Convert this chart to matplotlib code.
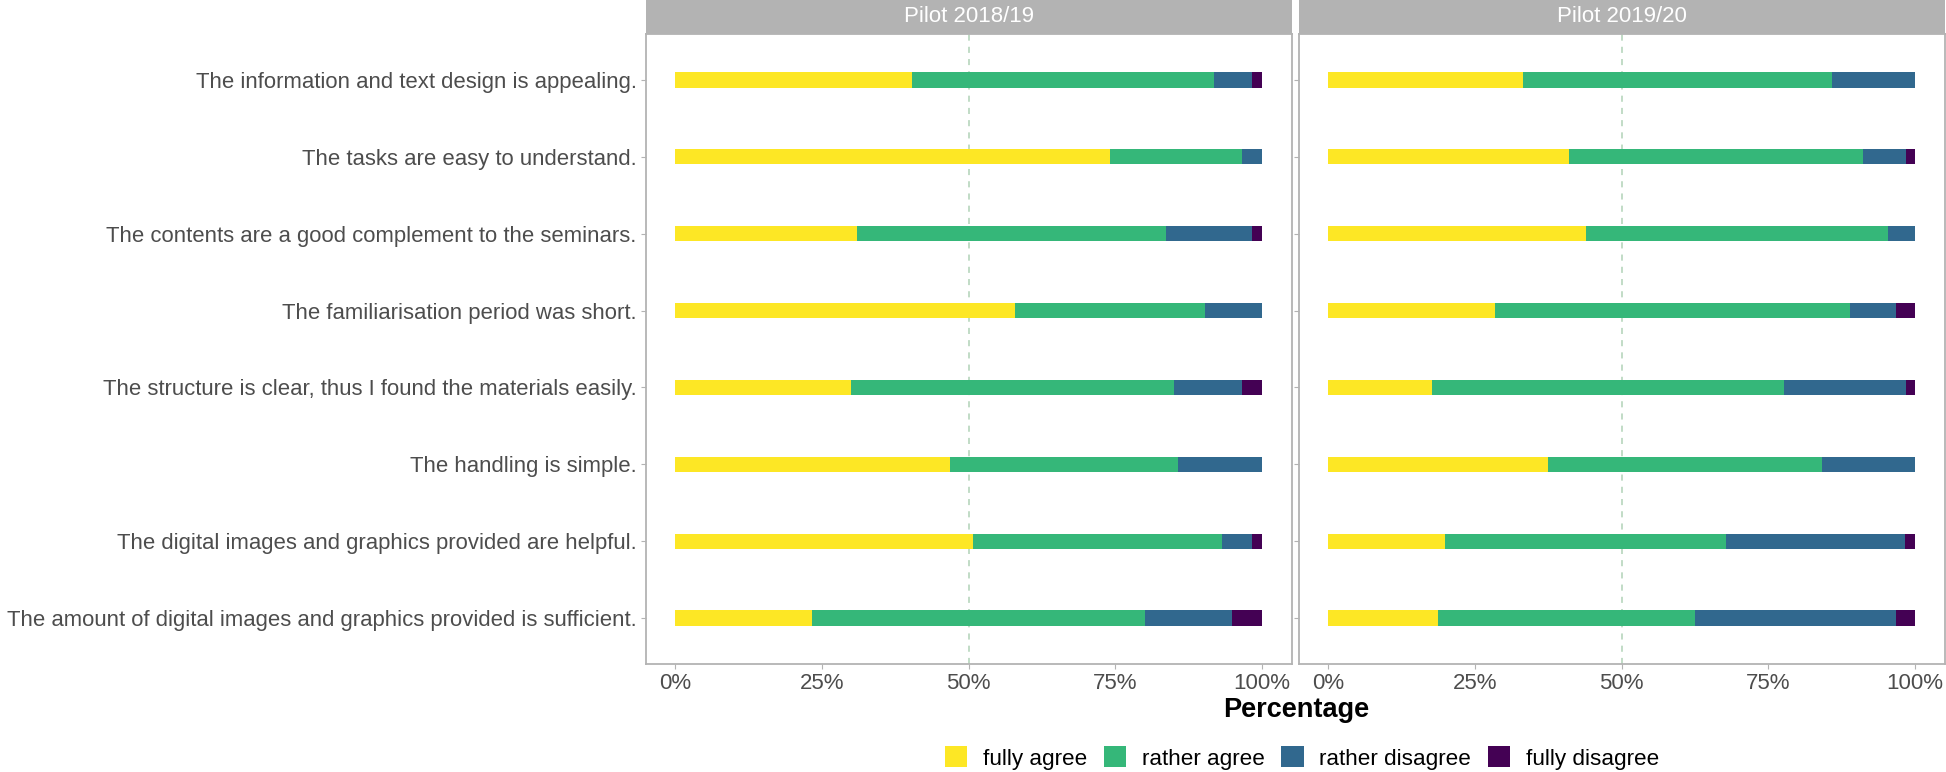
import matplotlib
matplotlib.use("Agg")
import matplotlib.pyplot as plt
from matplotlib.patches import Patch
import numpy as np

plt.rcParams['font.family'] = ['Liberation Sans', 'DejaVu Sans']

items = [
    "The information and text design is appealing.",
    "The tasks are easy to understand.",
    "The contents are a good complement to the seminars.",
    "The familiarisation period was short.",
    "The structure is clear, thus I found the materials easily.",
    "The handling is simple.",
    "The digital images and graphics provided are helpful.",
    "The amount of digital images and graphics provided is sufficient.",
]
panels = ["Pilot 2018/19", "Pilot 2019/20"]
responses = ["fully agree", "rather agree", "rather disagree", "fully disagree"]
colors = ["#FDE725", "#35B779", "#31688E", "#440154"]

# percentages per item (top to bottom) for each response
p1_fully_agree     = [40.3, 74.1, 31.0, 58.0, 30.0, 46.8, 50.8, 23.3]
p1_rather_agree    = [51.5, 22.5, 52.6, 32.2, 55.0, 38.8, 42.4, 56.8]
p1_rather_disagree = [6.4, 3.4, 14.6, 9.8, 11.5, 14.4, 5.0, 14.8]
p1_fully_disagree  = [1.8, 0.0, 1.8, 0.0, 3.5, 0.0, 1.8, 5.1]

p2_fully_agree     = [33.2, 41.1, 43.9, 28.4, 17.8, 37.5, 20.0, 18.7]
p2_rather_agree    = [52.6, 50.0, 51.5, 60.5, 59.9, 46.6, 47.8, 43.9]
p2_rather_disagree = [14.2, 7.3, 4.6, 7.9, 20.7, 15.9, 30.5, 34.2]
p2_fully_disagree  = [0.0, 1.6, 0.0, 3.2, 1.6, 0.0, 1.7, 3.2]

data = [
    [p1_fully_agree, p1_rather_agree, p1_rather_disagree, p1_fully_disagree],
    [p2_fully_agree, p2_rather_agree, p2_rather_disagree, p2_fully_disagree],
]

W, H = 1946, 772
fig = plt.figure(figsize=(W / 100, H / 100), dpi=100)

grey70 = "#b3b3b3"
ax_bottom = 664.3
ax_top = 33.7
panel_x = [(645.5, 1291.5), (1298.5, 1944.5)]

n = len(items)
ypos = np.arange(n)[::-1] + 1  # top item at highest position

for pi, (x0, x1) in enumerate(panel_x):
    ax = fig.add_axes([x0 / W, 1 - ax_bottom / H, (x1 - x0) / W, (ax_bottom - ax_top) / H])
    left = np.zeros(n)
    for ri, vals in enumerate(data[pi]):
        vals = np.array(vals, dtype=float)
        ax.barh(ypos, vals, left=left, height=0.2, color=colors[ri], zorder=3)
        left += vals
    ax.axvline(50, color="#b0d2b6", lw=1.1, linestyle=(0, (4, 4)), zorder=2)
    ax.set_xlim(-5, 105)
    ax.set_ylim(0.4, n + 0.6)
    ax.set_xticks([0, 25, 50, 75, 100])
    ax.set_xticklabels(["0%", "25%", "50%", "75%", "100%"], fontsize=16, color="#4d4d4d")
    ax.set_yticks(ypos)
    if pi == 0:
        ax.set_yticklabels(items, fontsize=15.9, color="#4d4d4d")
    else:
        ax.set_yticklabels([])
    ax.tick_params(axis="both", length=3.5, width=0.8, color=grey70, pad=3)
    for sp in ax.spines.values():
        sp.set_color(grey70)
        sp.set_linewidth(1.3)
    # strip
    sax = fig.add_axes([x0 / W, 1 - ax_top / H, (x1 - x0) / W, ax_top / H])
    sax.set_facecolor(grey70)
    sax.set_xticks([])
    sax.set_yticks([])
    for sp in sax.spines.values():
        sp.set_visible(False)
    sax.text(0.5, 0.5, panels[pi], ha="center", va="center", color="white",
             fontsize=16, transform=sax.transAxes)

fig.text(1296 / W, 1 - 710 / H, "Percentage", ha="center", va="center",
         fontsize=19.5, fontweight="bold", color="black")

handles = [Patch(facecolor=c, edgecolor="none") for c in colors]
fig.legend(handles, responses, loc="center", bbox_to_anchor=(1302 / W, 1 - 758 / H),
           ncol=4, frameon=False, fontsize=16.2, handlelength=1.0, handleheight=1.05,
           handletextpad=0.68, columnspacing=0.75, borderpad=0, borderaxespad=0)

fig.savefig("out.png", dpi=100)
